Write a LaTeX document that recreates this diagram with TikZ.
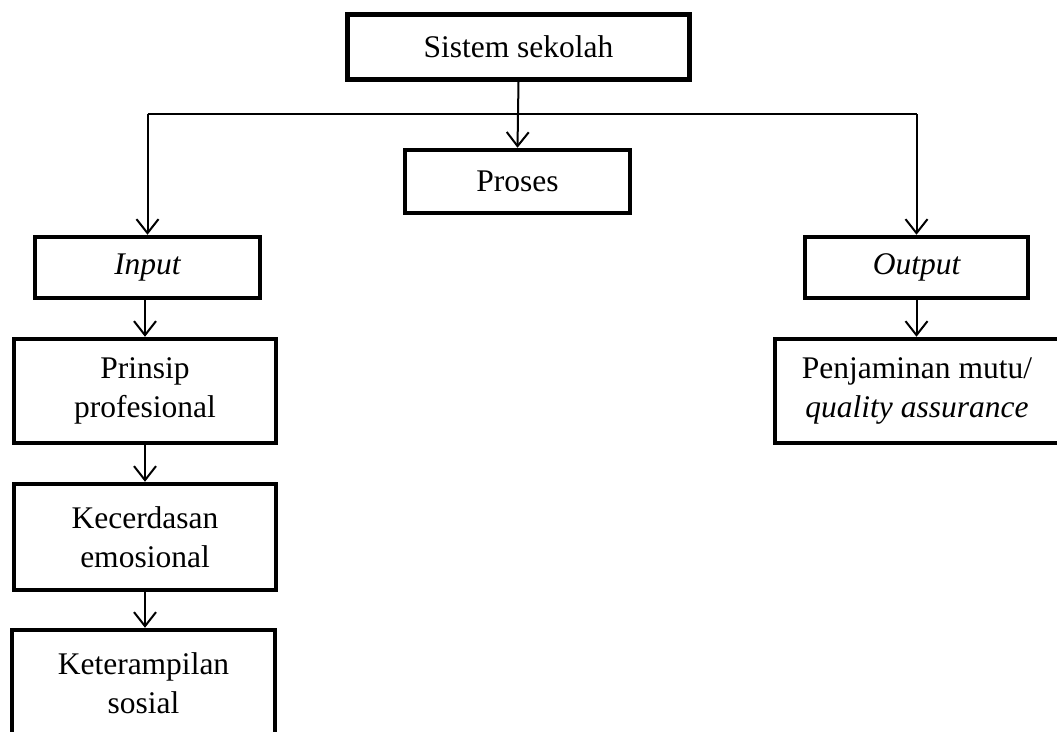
\documentclass[tikz,border=0pt]{standalone}
\usepackage{fontspec}
\setmainfont{Liberation Serif}
\usetikzlibrary{arrows.meta}
\begin{document}
\begin{tikzpicture}[x=1pt,y=-1pt,
  box/.style={draw,line width=4.5pt,align=center,inner sep=0pt,
    font=\fontsize{31.5}{39}\selectfont},
  arr/.style={line width=2pt,-{Straight Barb[length=14pt,width=22pt,line width=2pt]}},
  link/.style={line width=2pt}]
\useasboundingbox (0,0) rectangle (1057,731);
\node[box,minimum width=342pt,minimum height=65pt] (sis) at (518.5,47) {Sistem sekolah};
\node[box,minimum width=225pt,minimum height=63pt] (pro) at (517.5,181.5) {Proses};
\node[box,minimum width=225pt,minimum height=61pt] (inp) at (147.5,267.5) {\itshape Input};
\node[box,minimum width=223pt,minimum height=61pt] (out) at (916.5,267.5) {\itshape Output};
\node[box,minimum width=262pt,minimum height=104pt] (pri) at (145,391) {Prinsip\\profesional};
\node[box,minimum width=262pt,minimum height=106pt] (kec) at (145,537) {Kecerdasan\\emosional};
\node[box,minimum width=263pt,minimum height=106pt] (ket) at (143.5,683) {Keterampilan\\sosial};
\node[box,minimum width=284pt,minimum height=104pt] (pen) at (917,391) {Penjaminan mutu/\\\itshape quality assurance};
\coordinate (bus) at (517.5,114);
\draw[arr] (sis.south) -- (pro.north);
\draw[link] (bus -| inp.north) -- (bus -| out.north);
\draw[arr] (bus -| inp.north) -- (inp.north);
\draw[arr] (bus -| out.north) -- (out.north);
\draw[arr] (inp.south -| pri.north) -- (pri.north);
\draw[arr] (pri.south) -- (kec.north);
\draw[arr] (kec.south) -- (kec.south |- ket.north);
\draw[arr] (out.south) -- (out.south |- pen.north);
\end{tikzpicture}
\end{document}
